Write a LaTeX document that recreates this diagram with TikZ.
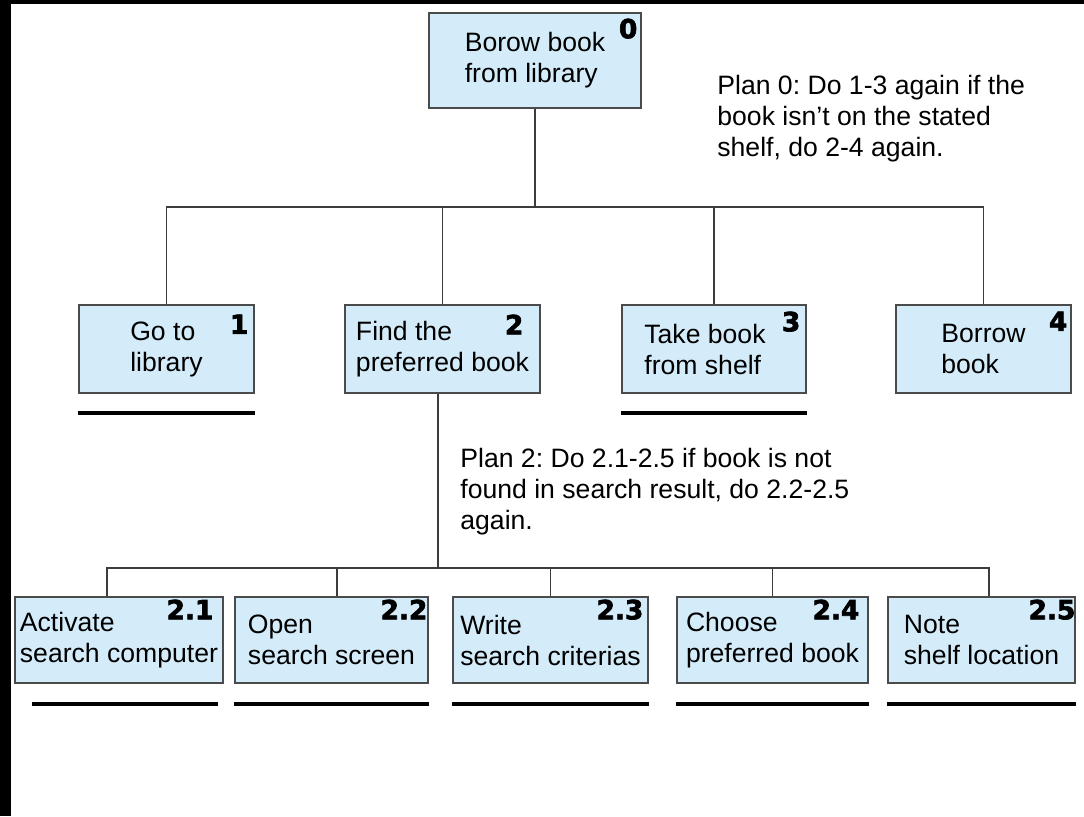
\documentclass[tikz,border=0pt]{standalone}
\usepackage{fontspec}
\setmainfont{Liberation Sans}
\newfontfamily\numfont{DejaVu Sans Bold}[FakeBold=2.6]
\usepackage{tikz}
\usetikzlibrary{positioning}
\definecolor{cell}{RGB}{212,236,250}
\definecolor{rim}{RGB}{75,75,75}
\definecolor{wire}{RGB}{60,60,60}
\frenchspacing

\begin{document}
\begin{tikzpicture}[x=0.5pt,y=-0.5pt,
  t/.style={draw=rim,fill=cell,line width=0.75pt,align=left,inner sep=0pt,
            font=\fontsize{13.3}{15.5}\selectfont,minimum height=44pt},
  n/.style={anchor=north east,inner sep=0pt,font=\numfont\fontsize{13.2}{13.2}\selectfont},
  a/.style={wire,line width=0.7pt},
  u/.style={line width=2.2pt},
  p/.style={anchor=north west,inner sep=0pt,align=left,font=\fontsize{13.3}{15.5}\selectfont}]
 % page and its dark edges
 \useasboundingbox (0,0) rectangle (1084,816);
 \fill[white] (0,0) rectangle (1084,816);
 \fill[black] (0,0) rectangle (11,816);
 \fill[black] (0,0) rectangle (1084,4);

 % goal
 \node[t,minimum width=106pt,minimum height=47.5pt] (root) at (535,60.5) {Borow book\\from library};
 \node[n] at ([shift={(-2pt,-3pt)}]root.north east) {0};

 % first level
 \node[t,minimum width=87.5pt] (go) at (166.5,349) {Go to\\library};
 \node[t,minimum width=97.5pt] (find) at (442.5,349) {Find the\\preferred book};
 \node[t,minimum width=92pt] (take) at (714,349) {Take book\hspace*{9pt}\\from shelf};
 \node[t,minimum width=87.5pt] (borrow) at (983.5,349) {Borrow\\book};
 \node[n] at ([shift={(-3pt,-5pt)}]go.north east) {1};
 \node[n] at ([shift={(-8.5pt,-5pt)}]find.north east) {2};
 \node[n] at ([shift={(-3pt,-3.5pt)}]take.north east) {3};
 \node[n] at ([shift={(-2pt,-3.5pt)}]borrow.north east) {4};

 % second level, under "find"
 \node[t,minimum width=104pt,minimum height=43pt] (act) at (119,640) {Activate\\search computer};
 \node[t,minimum width=96.5pt,minimum height=43pt] (open) at (331.5,640) {Open\\search screen};
 \node[t,minimum width=97.5pt,minimum height=43pt] (write) at (550.5,640) {Write\\search criterias};
 \node[t,minimum width=95.5pt,minimum height=43pt] (choose) at (772.5,640) {Choose\\preferred book};
 \node[t,minimum width=93.5pt,minimum height=43pt] (note) at (981.5,640) {Note\\shelf location};
 \node[n] at ([shift={(-5pt,-1.5pt)}]act.north east) {2.1};
 \node[n] at ([shift={(-0.5pt,-1.5pt)}]open.north east) {2.2};
 \node[n] at ([shift={(-2.5pt,-1.5pt)}]write.north east) {2.3};
 \node[n] at ([shift={(-4.5pt,-1.5pt)}]choose.north east) {2.4};
 \node[n] at ([shift={(0pt,-1.5pt)}]note.north east) {2.5};

 % tree lines
 \coordinate (fork) at (535,207);
 \draw[a] (root) -- (fork);
 \draw[a] (go) |- (fork) -| (borrow);
 \draw[a] (find) -- (find |- fork);
 \draw[a] (take) -- (take |- fork);
 \coordinate (sub) at (438,568);
 \draw[a] (find.south -| sub) -- (sub);
 \draw[a] ([xshift=-6pt]act.north) |- (sub) -| ([xshift=3.75pt]note.north);
 \draw[a] ([xshift=2.75pt]open.north) -- ([xshift=2.75pt]open.north |- sub);
 \draw[a] (write) -- (write |- sub);
 \draw[a] (choose) -- (choose |- sub);

 % no further breakdown
 \draw[u] ([yshift=-9.5pt]go.south west) -- ([yshift=-9.5pt]go.south east);
 \draw[u] ([yshift=-9.5pt]take.south west) -- ([yshift=-9.5pt]take.south east);
 \draw[u] ([shift={(9pt,-10pt)}]act.south west) -- ([shift={(-3pt,-10pt)}]act.south east);
 \foreach \k in {open,write,choose,note}
   \draw[u] ([yshift=-10pt]\k.south west) -- ([yshift=-10pt]\k.south east);

 % plans
 \node[p] (plan0) at (717,75) {Plan 0: Do 1-3 again if the\\book isn’t on the stated\\shelf, do 2-4 again.};
 \node[p] (plan2) at (460,448) {Plan 2: Do 2.1-2.5 if book is not\\found in search result, do 2.2-2.5\\again.};
\end{tikzpicture}
\end{document}
